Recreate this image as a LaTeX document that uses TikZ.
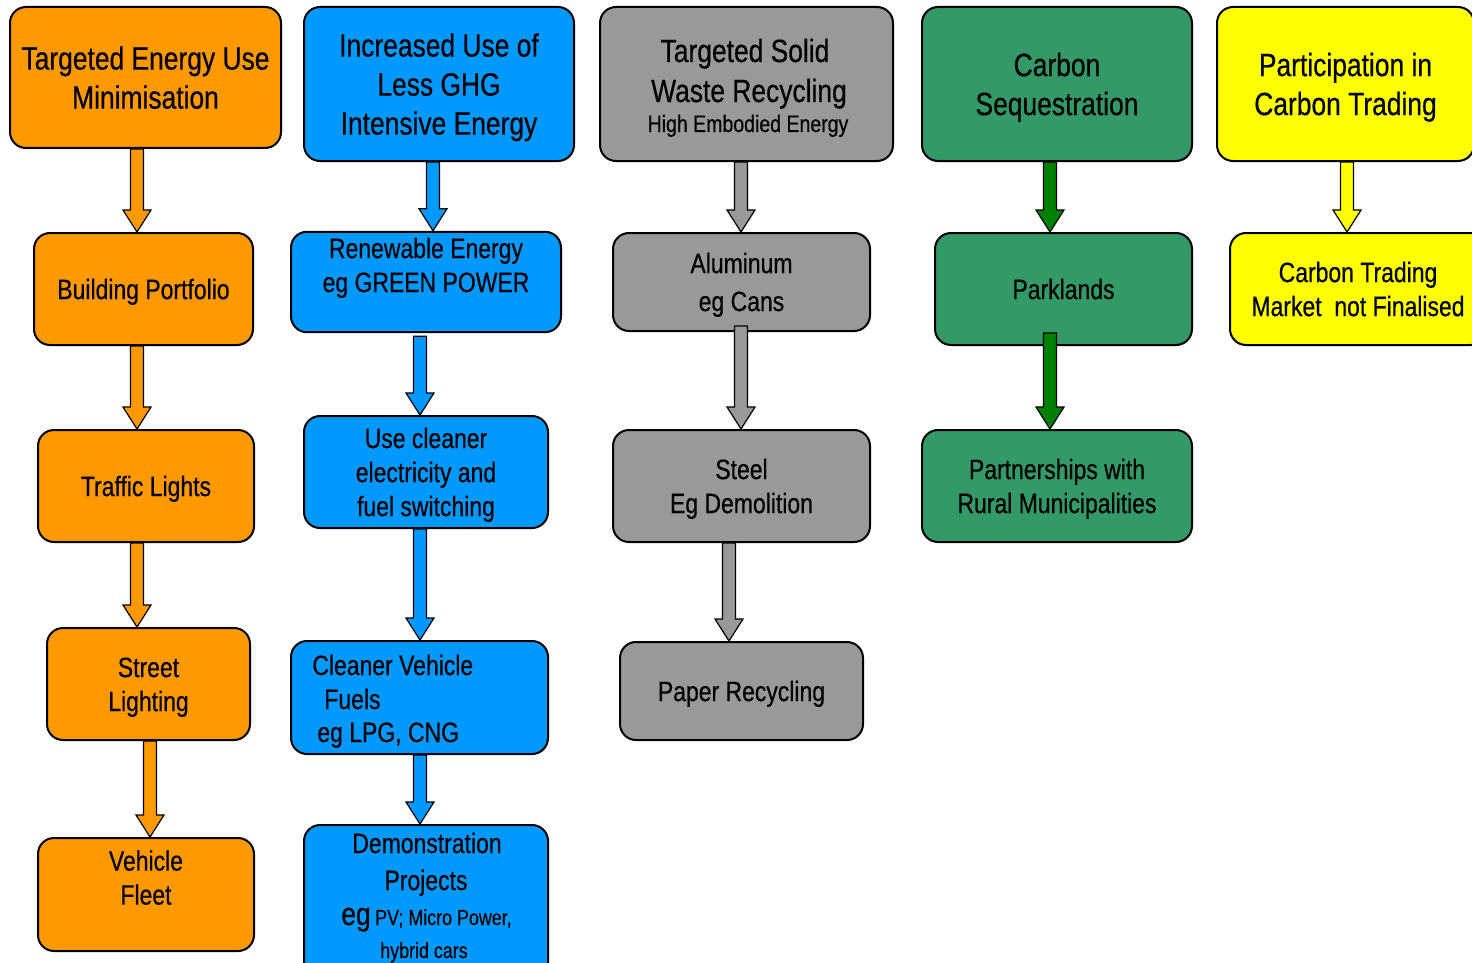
\documentclass[tikz,border=0pt]{standalone}
\usepackage{fontspec}
\setmainfont{Liberation Sans}[FakeStretch=0.82,FakeBold=0.5]
\usetikzlibrary{calc}
\definecolor{org}{HTML}{FF9900}
\definecolor{blu}{HTML}{0099FF}
\definecolor{gry}{HTML}{999999}
\definecolor{grn}{HTML}{339966}
\definecolor{grnA}{HTML}{008000}
\definecolor{ylw}{HTML}{FFFF00}
\newcommand\fhdr{\fontsize{16.1}{19.5}\selectfont}
\newcommand\fmed{\fontsize{14}{17}\selectfont}
\newcommand\fsml{\fontsize{11.9}{14}\selectfont}
\newcommand\fxs{\fontsize{10.9}{13}\selectfont}
\newcommand\ustrut{\rule{0pt}{0.94em}}
\newcommand\dstrut{\rule[-0.22em]{0pt}{0.1pt}}
% block arrow: #1 colour, #2 x (px), #3 source node, #4 target node, #5 start shift up (px)
\newcommand\barrow[5]{%
  \coordinate (ax) at (#2,0);
  \coordinate (as0) at (ax |- #3.south);
  \coordinate (as) at ([yshift=#5*0.5pt]as0);
  \coordinate (at) at (ax |- #4.north);
  \draw[arrowline,fill=#1] ([xshift=-3.25pt]as) -- ([xshift=-3.25pt,yshift=11pt]at)
    -- ([xshift=-7pt,yshift=11pt]at) -- (at) -- ([xshift=7pt,yshift=11pt]at)
    -- ([xshift=3.25pt,yshift=11pt]at) -- ([xshift=3.25pt]as) -- cycle;
}
\begin{document}
\begin{tikzpicture}[x=0.5pt,y=-0.5pt,
  box/.style={draw=black,line width=1pt,rounded corners=8pt,inner sep=0pt,align=center,text=black},
  txt/.style={inner sep=0pt,text=black},
  arrowline/.style={draw=black,line width=0.6pt,line join=miter}]
\useasboundingbox (0,0) rectangle (1472,963);
\fill[white] (0,0) rectangle (1472,963);

% column 1
\node[box,fill=org,minimum width=135.5pt,minimum height=70.5pt,font=\fhdr] (b1) at (145.5,77.5) {\ustrut Targeted Energy Use\\Minimisation\dstrut};
\node[box,fill=org,minimum width=109.5pt,minimum height=56pt,font=\fmed] (b2) at (143.5,289) {\ustrut Building Portfolio\dstrut};
\node[box,fill=org,minimum width=108pt,minimum height=56pt,font=\fmed] (b3) at (146,486) {\ustrut Traffic Lights\dstrut};
\node[box,fill=org,minimum width=101.5pt,minimum height=56pt,font=\fmed] (b4) at (148.5,684) {\ustrut Street\\Lighting\dstrut};
\node[box,fill=org,minimum width=108pt,minimum height=56.5pt,font=\fmed] (b5) at (146,894.5) {\ustrut Vehicle\\Fleet\\\dstrut};

% column 2
\node[box,fill=blu,minimum width=135pt,minimum height=77pt,font=\fhdr] (c1) at (439,84) {\ustrut Increased Use of\\Less GHG\\Intensive Energy\dstrut};
\node[box,fill=blu,minimum width=135pt,minimum height=49pt,font=\fmed] (c2) at (426,282) {\ustrut Renewable Energy\\eg GREEN POWER\\\dstrut};
\node[box,fill=blu,minimum width=122pt,minimum height=56pt,font=\fmed] (c3) at (426,472) {\ustrut Use cleaner\\electricity and\\fuel switching\dstrut};
\node[box,fill=blu,minimum width=128.5pt,minimum height=56.5pt] (c4) at (419.5,697.5) {};
\node[txt,font=\fmed,anchor=base west] (c4a) at (312,675) {Cleaner Vehicle};
\node[txt,font=\fmed,anchor=base west] (c4b) at (324,709) {Fuels};
\node[txt,font=\fmed,anchor=base west] (c4c) at (317,742) {eg LPG, CNG};
\node[box,fill=blu,minimum width=122pt,minimum height=92.5pt] (c5) at (426,917.5) {};
\node[txt,font=\fmed,anchor=base] (c5a) at (427,853) {Demonstration};
\node[txt,font=\fmed,anchor=base] (c5b) at (426,890) {Projects};
\node[txt,anchor=base] (c5c) at (426.5,925) {{\fhdr eg} {\fxs PV; Micro Power,}};
\node[txt,font=\fxs,anchor=base] (c5d) at (424,958) {hybrid cars};

% column 3
\node[box,fill=gry,minimum width=146.5pt,minimum height=77pt] (d1) at (746.5,84) {};
\node[txt,font=\fhdr,anchor=base] (d1a) at (745,62) {Targeted Solid};
\node[txt,font=\fhdr,anchor=base] (d1b) at (749,102) {Waste Recycling};
\node[txt,font=\fsml,anchor=base] (d1c) at (748,132) {High Embodied Energy};
\node[box,fill=gry,minimum width=128.5pt,minimum height=49pt,font=\fmed] (d2) at (741.5,282) {\ustrut Aluminum\\[2pt]eg Cans\dstrut};
\node[box,fill=gry,minimum width=128.5pt,minimum height=56pt,font=\fmed] (d3) at (741.5,486) {\ustrut Steel\\Eg Demolition\dstrut};
\node[box,fill=gry,minimum width=121.5pt,minimum height=49pt,font=\fmed] (d4) at (741.5,691) {\ustrut Paper Recycling\dstrut};

% column 4
\node[box,fill=grn,minimum width=135pt,minimum height=77pt,font=\fhdr] (e1) at (1057,84) {\ustrut Carbon\\Sequestration\dstrut};
\node[box,fill=grn,minimum width=128.5pt,minimum height=56pt,font=\fmed] (e2) at (1063.5,289) {\ustrut Parklands\dstrut};
\node[box,fill=grn,minimum width=135pt,minimum height=56pt,font=\fmed] (e3) at (1057,486) {\ustrut Partnerships with\\Rural Municipalities\dstrut};

% column 5
\node[box,fill=ylw,minimum width=128.5pt,minimum height=77pt,font=\fhdr] (f1) at (1345.5,84) {\ustrut Participation in\\Carbon Trading\dstrut};
\node[box,fill=ylw,minimum width=128pt,minimum height=56pt,font=\fmed] (f2) at (1358,289) {\ustrut Carbon Trading\\Market\ \ not Finalised\dstrut};

% arrows
\barrow{org}{137}{b1}{b2}{0}
\barrow{org}{137}{b2}{b3}{0}
\barrow{org}{137}{b3}{b4}{0}
\barrow{org}{150}{b4}{b5}{0}
\barrow{blu}{433}{c1}{c2}{0}
\barrow{blu}{420}{c2}{c3}{-3}
\barrow{blu}{420}{c3}{c4}{0}
\barrow{blu}{420}{c4}{c5}{0}
\barrow{gry}{741}{d1}{d2}{0}
\barrow{gry}{741}{d2}{d3}{6}
\barrow{gry}{729}{d3}{d4}{0}
\barrow{grnA}{1050}{e1}{e2}{0}
\barrow{grnA}{1050}{e2}{e3}{13}
\barrow{ylw}{1347}{f1}{f2}{0}
\end{tikzpicture}
\end{document}
